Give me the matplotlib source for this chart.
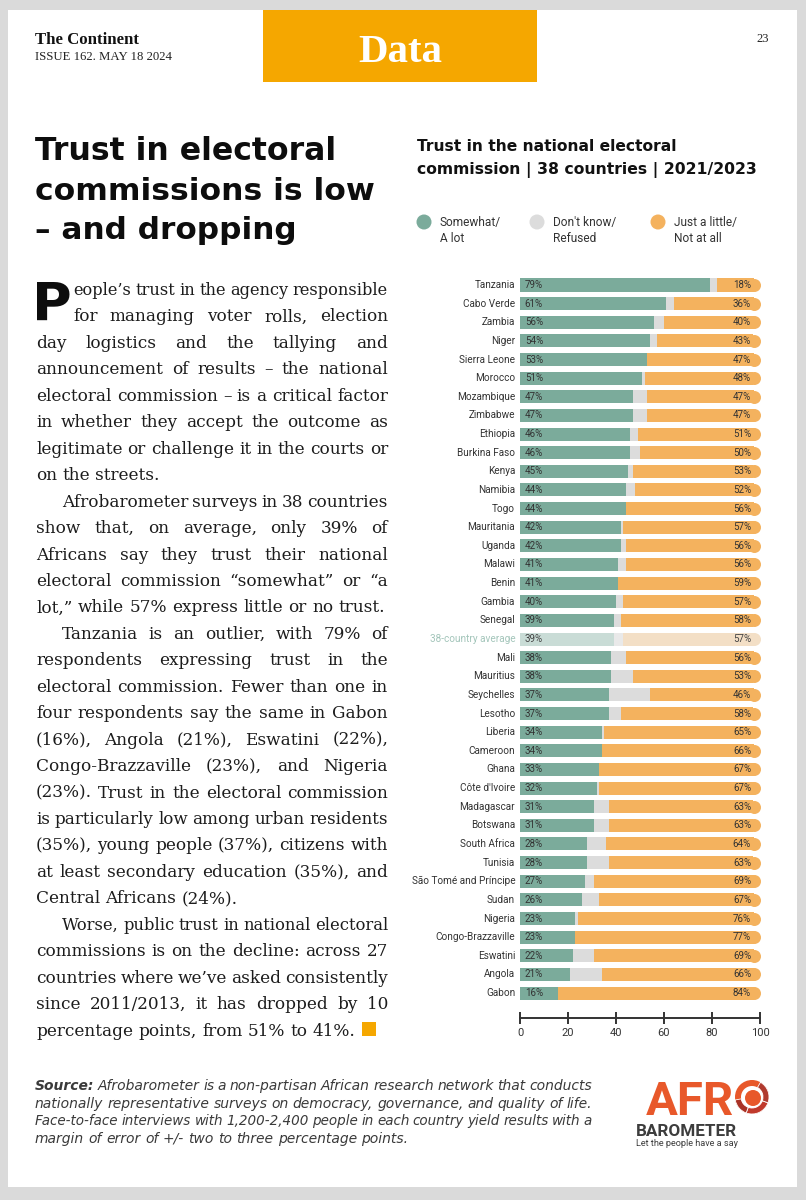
import matplotlib
matplotlib.use('Agg')
import matplotlib.pyplot as plt
import matplotlib.font_manager as fm
from matplotlib.font_manager import FontProperties
import numpy as np
from matplotlib.patches import Rectangle, Circle, Wedge

# ---------------- data ----------------
countries = ["Tanzania", "Cabo Verde", "Zambia", "Niger", "Sierra Leone", "Morocco",
             "Mozambique", "Zimbabwe", "Ethiopia", "Burkina Faso", "Kenya", "Namibia",
             "Togo", "Mauritania", "Uganda", "Malawi", "Benin", "Gambia", "Senegal",
             "38-country average", "Mali", "Mauritius", "Seychelles", "Lesotho", "Liberia",
             "Cameroon", "Ghana", "Côte d'Ivoire", "Madagascar", "Botswana", "South Africa",
             "Tunisia", "São Tomé and Príncipe", "Sudan", "Nigeria", "Congo-Brazzaville",
             "Eswatini", "Angola", "Gabon"]
somewhat = [79, 61, 56, 54, 53, 51, 47, 47, 46, 46, 45, 44, 44, 42, 42, 41, 41, 40, 39,
            39, 38, 38, 37, 37, 34, 34, 33, 32, 31, 31, 28, 28, 27, 26, 23, 23, 22, 21, 16]
dont_know = [3, 3, 4, 3, 0, 1, 6, 6, 3, 4, 2, 4, 0, 1, 2, 3, 0, 3, 3,
             4, 6, 9, 17, 5, 1, 0, 0, 1, 6, 6, 8, 9, 4, 7, 1, 0, 9, 13, 0]
just_little = [18, 36, 40, 43, 47, 48, 47, 47, 51, 50, 53, 52, 56, 57, 56, 56, 59, 57, 58,
               57, 56, 53, 46, 58, 65, 66, 67, 67, 63, 63, 64, 63, 69, 67, 76, 77, 69, 66, 84]
average_label = "38-country average"
x_ticks = [0, 20, 40, 60, 80, 100]
legend_labels = [("Somewhat/", "A lot"), ("Don't know/", "Refused"), ("Just a little/", "Not at all")]

# ---------------- styles ----------------
GREEN, GREY, ORANGE = '#7bab9b', '#dcdcdc', '#f4b25e'
GREEN_F, GREY_F, ORANGE_F = '#c9dcd6', '#e9e9e9', '#f3dfc6'
GOLD = '#f5a700'
TXT = '#333333'


def _wnum(w):
    return w if isinstance(w, (int, float)) else fm.weight_dict.get(str(w), 400)


def pick(names, weight=400, italic=False, condensed=False, fallback='DejaVu Sans', size=10):
    for name in names:
        best = None
        for f in fm.fontManager.ttflist:
            if not f.name.lower().startswith(name.lower()):
                continue
            low = (f.fname + ' ' + f.name).lower()
            if any(k in low for k in ('mono', 'slab', 'flex', 'serif')) and 'serif' not in name.lower():
                continue
            is_cond = ('condensed' in low) or ('narrow' in low)
            if is_cond != condensed:
                continue
            is_it = f.style in ('italic', 'oblique')
            if is_it != italic:
                continue
            d = abs(_wnum(f.weight) - weight)
            if best is None or d < best[0]:
                best = (d, f.fname)
        if best is not None:
            return FontProperties(fname=best[1], size=size)
    return FontProperties(family=fallback, weight=weight,
                          style='italic' if italic else 'normal', size=size)


F_SERIF_B = FontProperties(family=['Liberation Serif', 'DejaVu Serif'], weight='bold')
F_SERIF = FontProperties(family=['Liberation Serif', 'DejaVu Serif'])
F_BODY = FontProperties(family='DejaVu Serif')
F_HEAD = FontProperties(family='DejaVu Sans', weight='bold')
F_SANS = pick(['Roboto'], 400)
F_SANS_B = pick(['Roboto'], 700)
F_SRC = FontProperties(family='DejaVu Sans', style='oblique')
F_SRC_B = FontProperties(family='DejaVu Sans', style='oblique', weight='bold')

W, H = 806, 1200
fig = plt.figure(figsize=(W / 100, H / 100), dpi=100, facecolor='#dadada')
page = fig.add_axes([0, 0, 1, 1])
page.set_xlim(0, W)
page.set_ylim(H, 0)
page.axis('off')
page.add_patch(Rectangle((8, 10), 789, 1177, fc='white', ec='none', zorder=0))
renderer = fig.canvas.get_renderer()


def width(t):
    return t.get_window_extent(renderer).width


def fit(t, target):
    w = width(t)
    t.set_fontsize(t.get_fontsize() * target / w)
    return t


def txt(x, y, s, fp, fs, **kw):
    kw.setdefault('va', 'baseline')
    return page.text(x, y, s, fontproperties=fp, fontsize=fs, **kw)


def place_line(words, x0, x1, y, fs, fps, justify=True, color='#1c1c1c'):
    if not isinstance(fps, list):
        fps = [fps] * len(words)
    ts = [txt(0, y, w, fp, fs, color=color, ha='left') for w, fp in zip(words, fps)]
    a = txt(0, y, 'x x', fps[-1], fs)
    b = txt(0, y, 'xx', fps[-1], fs)
    space = width(a) - width(b)
    a.remove(); b.remove()
    widths = [width(t) for t in ts]
    total = sum(widths)
    n = len(ts)
    avail = x1 - x0
    if total + (n - 1) * space * 0.75 > avail:
        for t in ts:
            t.remove()
        f = avail / (total + (n - 1) * space * 0.75)
        return place_line(words, x0, x1, y, fs * f, fps, justify, color)
    gap = (avail - total) / (n - 1) if (justify and n > 1) else space
    x = x0
    for t, w in zip(ts, widths):
        t.set_x(x)
        x += w + gap
    return x - gap


# ---------------- header ----------------
page.add_patch(Rectangle((263, 10), 274, 72, fc=GOLD, ec='none'))
fit(txt(400, 62, 'Data', F_SERIF_B, 28, color='white', ha='center'), 84)
fit(txt(35, 44, 'The Continent', F_SERIF_B, 12, color='#111'), 103)
fit(txt(35, 60, 'ISSUE 162. MAY 18 2024', F_SERIF, 9, color='#222'), 137)
txt(769, 42, '23', F_SERIF, 9, color='#222', ha='right')

# ---------------- headline ----------------
for s, yb, wd in [('Trust in electoral', 160, 302), ('commissions is low', 200, 340),
                  ('– and dropping', 239, 262)]:
    fit(txt(35, yb, s, F_HEAD, 24, color='#0d0d0d'), wd)

# ---------------- body text ----------------
body = [
    (73, "eople’s trust in the agency responsible", True),
    (73, "for managing voter rolls, election", True),
    (36, "day logistics and the tallying and", True),
    (36, "announcement of results – the national", True),
    (36, "electoral commission – is a critical factor", True),
    (36, "in whether they accept the outcome as", True),
    (36, "legitimate or challenge it in the courts or", True),
    (36, "on the streets.", False),
    (62, "Afrobarometer surveys in 38 countries", True),
    (36, "show that, on average, only 39% of", True),
    (36, "Africans say they trust their national", True),
    (36, "electoral commission “somewhat” or “a", True),
    (36, "lot,” while 57% express little or no trust.", False),
    (62, "Tanzania is an outlier, with 79% of", True),
    (36, "respondents expressing trust in the", True),
    (36, "electoral commission. Fewer than one in", True),
    (36, "four respondents say the same in Gabon", True),
    (36, "(16%), Angola (21%), Eswatini (22%),", True),
    (36, "Congo-Brazzaville (23%), and Nigeria", True),
    (36, "(23%). Trust in the electoral commission", True),
    (36, "is particularly low among urban residents", True),
    (36, "(35%), young people (37%), citizens with", True),
    (36, "at least secondary education (35%), and", True),
    (36, "Central Africans (24%).", False),
    (62, "Worse, public trust in national electoral", True),
    (36, "commissions is on the decline: across 27", True),
    (36, "countries where we’ve asked consistently", True),
    (36, "since 2011/2013, it has dropped by 10", True),
    (36, "percentage points, from 51% to 41%.", False),
]
end_x = 0
for i, (x0, line, just) in enumerate(body):
    yb = 295 + 26.45 * i
    end_x = place_line(line.split(' '), x0, 388, yb, 12.2, F_BODY, justify=just)
page.add_patch(Rectangle((end_x + 6, 1036 - 14), 14, 14, fc=GOLD, ec='none'))
# drop cap
txt(32, 321, 'P', F_HEAD, 39, color='#0d0d0d')

# ---------------- chart title & legend ----------------
fit(txt(417, 151, 'Trust in the national electoral', F_HEAD, 12, color='#111'), 258)
fit(txt(417, 174, 'commission | 38 countries | 2021/2023', F_HEAD, 12, color='#111'), 340)
for cx, col, (l1, l2) in zip([424, 537, 658], [GREEN, GREY, ORANGE], legend_labels):
    page.add_patch(Circle((cx, 222), 7.5, fc=col, ec='none'))
    txt(cx + 16, 226, l1, F_SANS, 8.6, color=TXT, ha='left')
    txt(cx + 16, 242, l2, F_SANS, 8.6, color=TXT, ha='left')

# ---------------- chart ----------------
ax = fig.add_axes([520 / W, 1 - 1018 / H, 240 / W, (1018 - 275.7) / H])
ax.set_xlim(0, 100)
ax.set_ylim(39.34, -0.5)
ax.patch.set_alpha(0)
ypos = np.arange(len(countries))
bh = 0.70
r_d = 6.5 / 2.4
ms = 13 * 72 / 100
for i, c in enumerate(countries):
    avg = (c == average_label)
    g, d, o = somewhat[i], dont_know[i], just_little[i]
    cg, cd, co = (GREEN_F, GREY_F, ORANGE_F) if avg else (GREEN, GREY, ORANGE)
    ax.barh(ypos[i], g, left=0, height=bh, color=cg, lw=0)
    if d > 0:
        ax.barh(ypos[i], d, left=g, height=bh, color=cd, lw=0)
    ax.barh(ypos[i], o - r_d, left=g + d, height=bh, color=co, lw=0)
    ax.plot([100 - r_d], [ypos[i]], 'o', ms=ms, mfc=co, mew=0, clip_on=False)
    vcol = '#444' if avg else TXT
    ax.text(2, ypos[i], f"{g}%", ha='left', va='center', fontproperties=F_SANS,
            fontsize=7, color=vcol)
    ax.text(96.3, ypos[i], f"{o}%", ha='right', va='center', fontproperties=F_SANS,
            fontsize=7, color=vcol)
    ax.text(-2, ypos[i], c, ha='right', va='center', fontproperties=F_SANS, fontsize=7.2,
            color='#a3c5ba' if avg else TXT)

for s in ['top', 'right', 'left']:
    ax.spines[s].set_visible(False)
ax.spines['bottom'].set_color('#333')
ax.spines['bottom'].set_linewidth(1.4)
ax.set_yticks([])
ax.set_xticks(x_ticks)
ax.set_xticklabels([str(v) for v in x_ticks], fontproperties=F_SANS, fontsize=8)
ax.tick_params(axis='x', direction='inout', length=9, width=1.4, color='#333',
               labelcolor=TXT, pad=3)

# ---------------- source ----------------
src = [
    ("Source: Afrobarometer is a non-partisan African research network that conducts", True),
    ("nationally representative surveys on democracy, governance, and quality of life.", True),
    ("Face-to-face interviews with 1,200-2,400 people in each country yield results with a", True),
    ("margin of error of +/- two to three percentage points.", False),
]
for i, (line, just) in enumerate(src):
    words = line.split(' ')
    fps = [F_SRC_B if (i == 0 and j == 0) else F_SRC for j in range(len(words))]
    place_line(words, 35, 592, 1090 + 17.6 * i, 10.0, fps, justify=just, color='#3a3a3a')

# ---------------- logo ----------------
LOGO = '#e8582a'
fit(txt(646, 1115, 'AFR', F_SANS_B, 36, color=LOGO), 88)
cx, cy, R = 752, 1097, 17
page.add_patch(Circle((cx, cy), R, fc=LOGO, ec='none'))
for a1, a2, col in [(20, 110, '#c0392b'), (110, 170, '#a93226'), (-60, 20, '#b03a2e')]:
    page.add_patch(Wedge((cx, cy), R, a1, a2, width=6, fc=col, ec='white', lw=0.6))
page.add_patch(Circle((cx, cy), R - 6, fc='white', ec='none'))
page.add_patch(Circle((cx + 1, cy + 1), R - 9, fc=LOGO, ec='none'))
fit(txt(636, 1136, 'BAROMETER', F_SANS_B, 11, color='#3d3d3d'), 101)
fit(txt(636, 1146, 'Let the people have a say', F_SANS, 6, color='#3d3d3d'), 104)

fig.savefig('out.png', dpi=100, facecolor=fig.get_facecolor())
